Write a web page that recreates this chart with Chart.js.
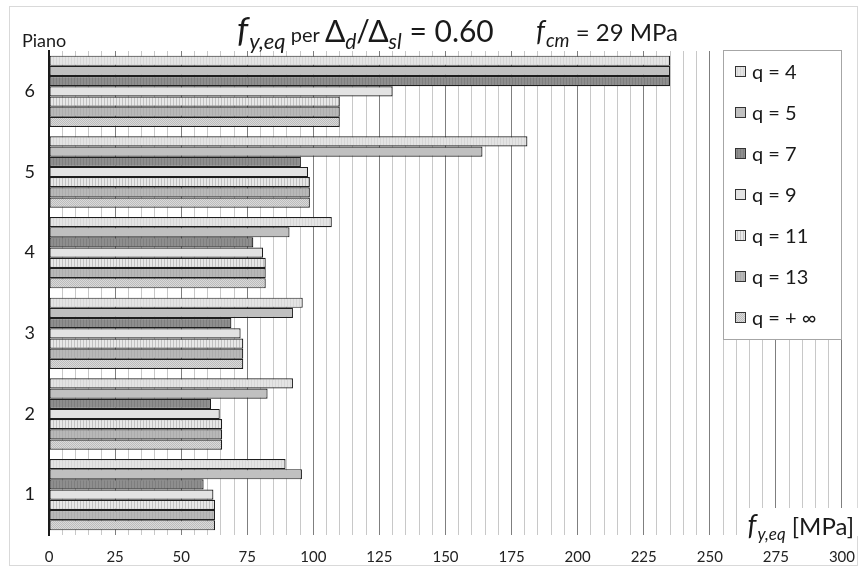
<!DOCTYPE html>
<html>
<head>
<meta charset="utf-8">
<script src="https://cdn.jsdelivr.net/npm/chart.js@4.4.0/dist/chart.umd.min.js"></script>
<style>
  body { margin: 0; background: #fff; }
  canvas { display: block; }
</style>
</head>
<body>
<canvas id="floorChart" width="868" height="572"></canvas>
<script>
// floors, top to bottom
const floors = ['6', '5', '4', '3', '2', '1'];
const seriesLabels = ['q = 4', 'q = 5', 'q = 7', 'q = 9', 'q = 11', 'q = 13', 'q = + \u221E'];

// f_y,eq [MPa] per floor (6 -> 1)
const q4 = [235, 181, 107, 96, 92.3, 89.5];
const q5 = [235, 164, 91, 92.3, 82.7, 95.7];
const q7 = [235, 95.3, 77.3, 69, 61.3, 58.5];
const q9 = [130, 98, 81, 72.5, 64.6, 62.2];
const q11 = [110, 98.7, 82, 73.5, 65.5, 62.8];
const q13 = [110, 98.7, 82, 73.5, 65.5, 62.8];
const qInf = [110, 98.7, 82, 73.5, 65.5, 62.8];

const xMin = 0, xMax = 300, xStep = 5, xLabelStep = 25;

const FONT = 'Lato, "Open Sans", sans-serif';

function makePattern(w, h, paint) {
    const c = document.createElement('canvas');
    c.width = w; c.height = h;
    const g = c.getContext('2d');
    paint(g);
    return g.createPattern(c, 'repeat');
}
function stripes(colors) {
    return makePattern(colors.length, 4, g => {
        colors.forEach((col, i) => { g.fillStyle = col; g.fillRect(i, 0, 1, 4); });
    });
}

const fills = [
    stripes(['#e4e4e4', '#e4e4e4', '#d6d6d6']),
    '#c0c0c0',
    stripes(['#8e8e8e', '#8e8e8e', '#7e7e7e']),
    '#e3e3e3',
    stripes(['#e8e8e8', '#e8e8e8', '#c2c2c2']),
    stripes(['#b8b8b8', '#b8b8b8', '#acacac']),
    makePattern(2, 2, g => {
        g.fillStyle = '#dadada'; g.fillRect(0, 0, 2, 2);
        g.fillStyle = '#bcbcbc'; g.fillRect(0, 0, 1, 1); g.fillRect(1, 1, 1, 1);
    })
];

const seriesData = [q4, q5, q7, q9, q11, q13, qInf];

// title, axis labels, legend and frame
const decorations = {
    id: 'decorations',
    afterDraw(chart) {
        const ctx = chart.ctx;
        const area = chart.chartArea;
        ctx.save();

        // outer frame
        ctx.strokeStyle = '#d9d9d9';
        ctx.lineWidth = 1;
        ctx.strokeRect(9.5, 6.5, 848, 559);

        ctx.fillStyle = '#1a1a1a';
        ctx.textBaseline = 'alphabetic';
        ctx.textAlign = 'left';

        function run(parts, x) {
            parts.forEach(p => {
                ctx.font = p.font;
                ctx.fillText(p.t, x + (p.dx || 0), p.y);
                x += ctx.measureText(p.t).width + (p.dx || 0);
            });
            return x;
        }
        function width(parts) {
            let w = 0;
            parts.forEach(p => { ctx.font = p.font; w += ctx.measureText(p.t).width + (p.dx || 0); });
            return w;
        }

        // title
        const by = 42;
        run([
            { t: 'f', font: 'italic 35px ' + FONT, y: by },
            { t: 'y,eq', font: 'italic 22px ' + FONT, y: by + 7, dx: 1 },
            { t: ' per ', font: '20px ' + FONT, y: by },
            { t: '\u0394', font: '30px ' + FONT, y: by },
            { t: 'd', font: 'italic 21px ' + FONT, y: by + 7 },
            { t: '/\u0394', font: '30px ' + FONT, y: by },
            { t: 'sl', font: 'italic 21px ' + FONT, y: by + 7 },
            { t: ' = 0.60', font: '30px ' + FONT, y: by }
        ], 237);
        run([
            { t: 'f', font: 'italic 28px ' + FONT, y: by - 1 },
            { t: 'cm', font: 'italic 19px ' + FONT, y: by + 5, dx: 1 },
            { t: ' = 29 MPa', font: '24px ' + FONT, y: by - 1 }
        ], 536);

        // y axis name
        ctx.font = '18px ' + FONT;
        ctx.fillText('Piano', 22, 47);

        // x axis name with white backing
        ctx.fillStyle = '#ffffff';
        ctx.fillRect(740, 508, 118, area.bottom - 508 + 1);
        ctx.fillStyle = '#1a1a1a';
        const axisParts = [
            { t: 'f', font: 'italic 28px ' + FONT, y: 535 },
            { t: 'y,eq', font: 'italic 17px ' + FONT, y: 540, dx: 1 },
            { t: ' [MPa]', font: '24px ' + FONT, y: 535 }
        ];
        run(axisParts, 855 - width(axisParts) - 1);

        // legend
        const lx = 723, ly = 50, lw = 118, lh = 289;
        ctx.fillStyle = '#ffffff';
        ctx.fillRect(lx, ly, lw, lh);
        ctx.strokeStyle = '#a6a6a6';
        ctx.strokeRect(lx + 0.5, ly + 0.5, lw, lh);
        chart.data.datasets.forEach((ds, i) => {
            const cy = 72 + i * 41;
            ctx.fillStyle = ds.backgroundColor;
            ctx.fillRect(735, cy - 6, 11, 11);
            ctx.strokeStyle = '#333';
            ctx.strokeRect(735.5, cy - 5.5, 10, 10);
            ctx.fillStyle = '#1a1a1a';
            ctx.font = '20px ' + FONT;
            ctx.textBaseline = 'middle';
            ctx.fillText(ds.label, 752, cy + 1);
        });
        ctx.restore();
    }
};

const chart = new Chart(document.getElementById('floorChart').getContext('2d'), {
    type: 'bar',
    data: {
        labels: floors,
        datasets: seriesLabels.map((label, i) => ({
            label: label,
            data: seriesData[i],
            backgroundColor: fills[i],
            borderColor: '#1e1e1e',
            borderWidth: 1.2,
            borderSkipped: false,
            categoryPercentage: 0.885,
            barPercentage: 1.0
        }))
    },
    options: {
        indexAxis: 'y',
        responsive: false,
        animation: false,
        events: [],
        layout: { padding: { top: 51, right: 25, left: 0, bottom: 0 } },
        plugins: {
            legend: { display: false },
            title: { display: false },
            tooltip: { enabled: false }
        },
        scales: {
            x: {
                min: xMin,
                max: xMax,
                afterFit: s => { s.height = 37; },
                border: { display: false },
                grid: {
                    drawTicks: false,
                    color: c => (c.tick && c.tick.value % xLabelStep === 0) ? '#7f7f7f' : '#c8c8c8'
                },
                ticks: {
                    stepSize: xStep,
                    autoSkip: false,
                    maxRotation: 0,
                    padding: 13,
                    color: '#222',
                    font: { family: FONT, size: 15 },
                    callback: v => (v % xLabelStep === 0 ? v : '')
                }
            },
            y: {
                afterFit: s => { s.width = 49; },
                border: { display: true, color: '#1a1a1a', width: 2 },
                grid: { display: false, drawTicks: false },
                ticks: {
                    padding: 14,
                    color: '#1a1a1a',
                    font: { family: FONT, size: 18 }
                }
            }
        }
    },
    plugins: [decorations]
});
</script>
</body>
</html>
